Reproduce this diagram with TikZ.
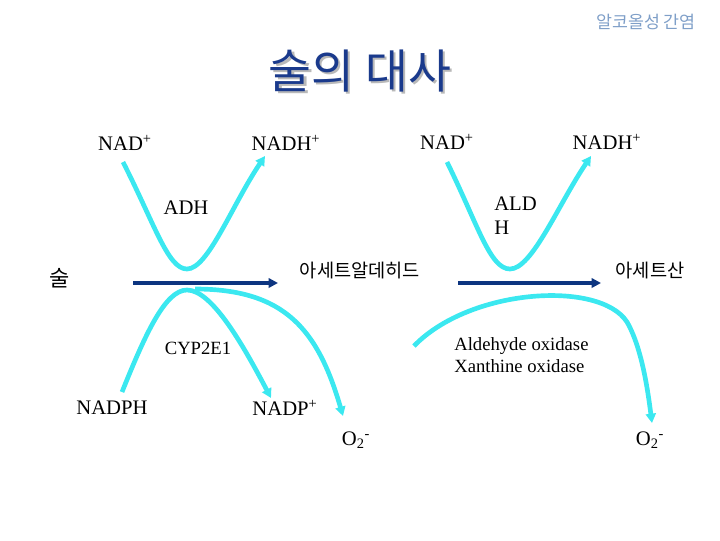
\documentclass[tikz,border=0pt]{standalone}
\usepackage{fontspec}
\setmainfont{Liberation Serif}
\newfontfamily\kr{Noto Sans CJK KR}
\usetikzlibrary{arrows.meta}
\definecolor{cyanl}{HTML}{3BE8F0}
\definecolor{navy}{HTML}{0D3580}
\definecolor{titleblue}{HTML}{1A3A8C}
\definecolor{subblue}{HTML}{7F9FC8}
\newcommand{\shadowtext}[1]{\makebox[0pt][l]{\hspace{1.6pt}\raisebox{-1.6pt}{\textcolor{gray!55}{#1}}}\textcolor{titleblue}{#1}}
\begin{document}
\begin{tikzpicture}[x=0.75pt,y=-0.75pt,
  lbl/.style={font=\fontsize{15.5}{18}\selectfont, inner sep=0pt},
  klbl/.style={font=\kr\fontsize{14}{16}\selectfont, inner sep=0pt},
  enz/.style={font=\fontsize{14}{16.5}\selectfont, inner sep=0pt},
  cyanarr/.style={draw=cyanl, line width=3.5pt, -{Triangle[length=7pt,width=7.5pt]}},
  mainarr/.style={draw=navy, line width=3pt, -{Triangle[length=7pt,width=7pt]}}]
\useasboundingbox (0,0) rectangle (720,540);
% headings
\node[font=\kr\fontsize{13}{15}\selectfont, text=subblue, inner sep=0pt] (sub) at (646,22) {알코올성 간염};
\node[font=\kr\fontsize{35}{38}\selectfont, inner sep=0pt] (title) at (360,72) {\shadowtext{술의 대사}};
% top labels
\node[lbl] (nad1) at (125,143) {NAD\textsuperscript{+}};
\node[lbl] (nadh1) at (286,143) {NADH\textsuperscript{+}};
\node[lbl] (nad2) at (447,142) {NAD\textsuperscript{+}};
\node[lbl] (nadh2) at (607,142) {NADH\textsuperscript{+}};
\node[lbl] (adh) at (186,208) {ADH};
\node[lbl, align=left, anchor=west] (aldh) at (494,216) {ALD\\H};
% main compounds
\node[klbl, font=\kr\fontsize{16.5}{18}\selectfont] (alc) at (60,278) {술};
\node[klbl] (acetald) at (360,271) {아세트알데히드};
\node[klbl] (acetic) at (650,271) {아세트산};
% lower labels
\node[enz] (cyp) at (198,348) {CYP2E1};
\node[enz, align=left, anchor=west] (aox) at (454,355) {Aldehyde oxidase\\Xanthine oxidase};
\node[lbl] (nadph) at (112,408) {NADPH};
\node[lbl] (nadp) at (285,408) {NADP\textsuperscript{+}};
\node[lbl] (o2a) at (356,440) {O\textsubscript{2}\textsuperscript{-}};
\node[lbl] (o2b) at (650,440) {O\textsubscript{2}\textsuperscript{-}};
% coordinates
\coordinate (a1s) at (133,283);
\coordinate (a1e) at (278,283);
\coordinate (a2s) at (458,283);
\coordinate (a2e) at (601,283);
\coordinate (v1s) at (123,162);
\coordinate (v1m) at (187,269);
\coordinate (v1e) at (265,156);
\coordinate (v2s) at (447,162);
\coordinate (v2m) at (510,269);
\coordinate (v2e) at (591,156);
\coordinate (c1s) at (122,392);
\coordinate (c1m) at (187,290);
\coordinate (c1e) at (271,398);
\coordinate (c2s) at (195,289);
\coordinate (c2e) at (343,416);
\coordinate (r1s) at (414,346);
\coordinate (r1e) at (652,423);
% main arrows
\draw[mainarr] (a1s) -- (a1e);
\draw[mainarr] (a2s) -- (a2e);
% upper V curves
\draw[cyanarr] (v1s) .. controls (155,225) and (168,269) .. (v1m) .. controls (208,269) and (232,205) .. (v1e);
\draw[cyanarr] (v2s) .. controls (478,225) and (490,269) .. (v2m) .. controls (532,269) and (558,205) .. (v2e);
% lower curves
\draw[cyanarr] (c1s) .. controls (145,335) and (165,290) .. (c1m) .. controls (212,290) and (243,345) .. (c1e);
\draw[cyanarr] (c2s) .. controls (285,289) and (318,330) .. (c2e);
\draw[cyanarr] (r1s) .. controls (470,288) and (600,280) .. (627,322) .. controls (642,348) and (648,392) .. (r1e);
\end{tikzpicture}
\end{document}
